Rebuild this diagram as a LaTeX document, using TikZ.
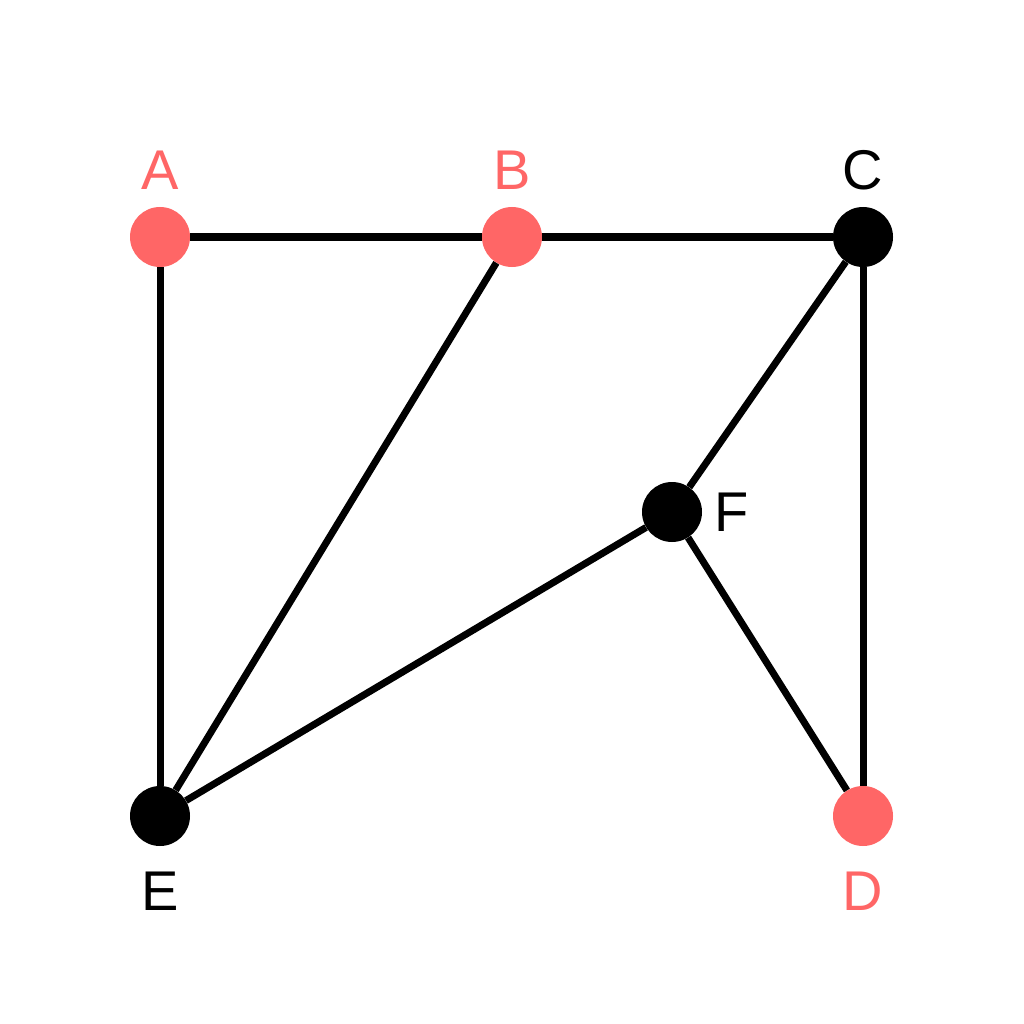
\documentclass[tikz,border=0pt]{standalone}
\usepackage{fontspec}
\setmainfont{Liberation Sans}
\definecolor{nodered}{HTML}{FF6666}
\begin{document}
\begin{tikzpicture}[x=1pt,y=-1pt,
  vtx/.style={circle,inner sep=0pt,minimum size=60pt},
  redv/.style={vtx,fill=nodered},
  blackv/.style={vtx,fill=black},
  edge/.style={line width=7pt,black},
  lbl/.style={font=\fontsize{56}{60}\selectfont,inner sep=0pt,anchor=center},
  redl/.style={lbl,text=nodered},
  blackl/.style={lbl,text=black}]
\useasboundingbox (0,0) rectangle (1024,1024);
\fill[white] (0,0) rectangle (1024,1024);
\node[redv] (A) at (160,237) {};
\node[redv] (B) at (512,237) {};
\node[blackv] (C) at (863,237) {};
\node[blackv] (F) at (672,512) {};
\node[blackv] (E) at (160,816) {};
\node[redv] (D) at (863,816) {};
\draw[edge] (A) -- (B);
\draw[edge] (B) -- (C);
\draw[edge] (A) -- (E);
\draw[edge] (B) -- (E);
\draw[edge] (C) -- (F);
\draw[edge] (C) -- (D);
\draw[edge] (F) -- (E);
\draw[edge] (F) -- (D);
\node[redl] (lA) at (160,170) {A};
\node[redl] (lB) at (512,170) {B};
\node[blackl] (lC) at (863,170) {C};
\node[blackl] (lF) at (732,512) {F};
\node[blackl] (lE) at (160,891) {E};
\node[redl] (lD) at (863,891) {D};
\end{tikzpicture}
\end{document}
